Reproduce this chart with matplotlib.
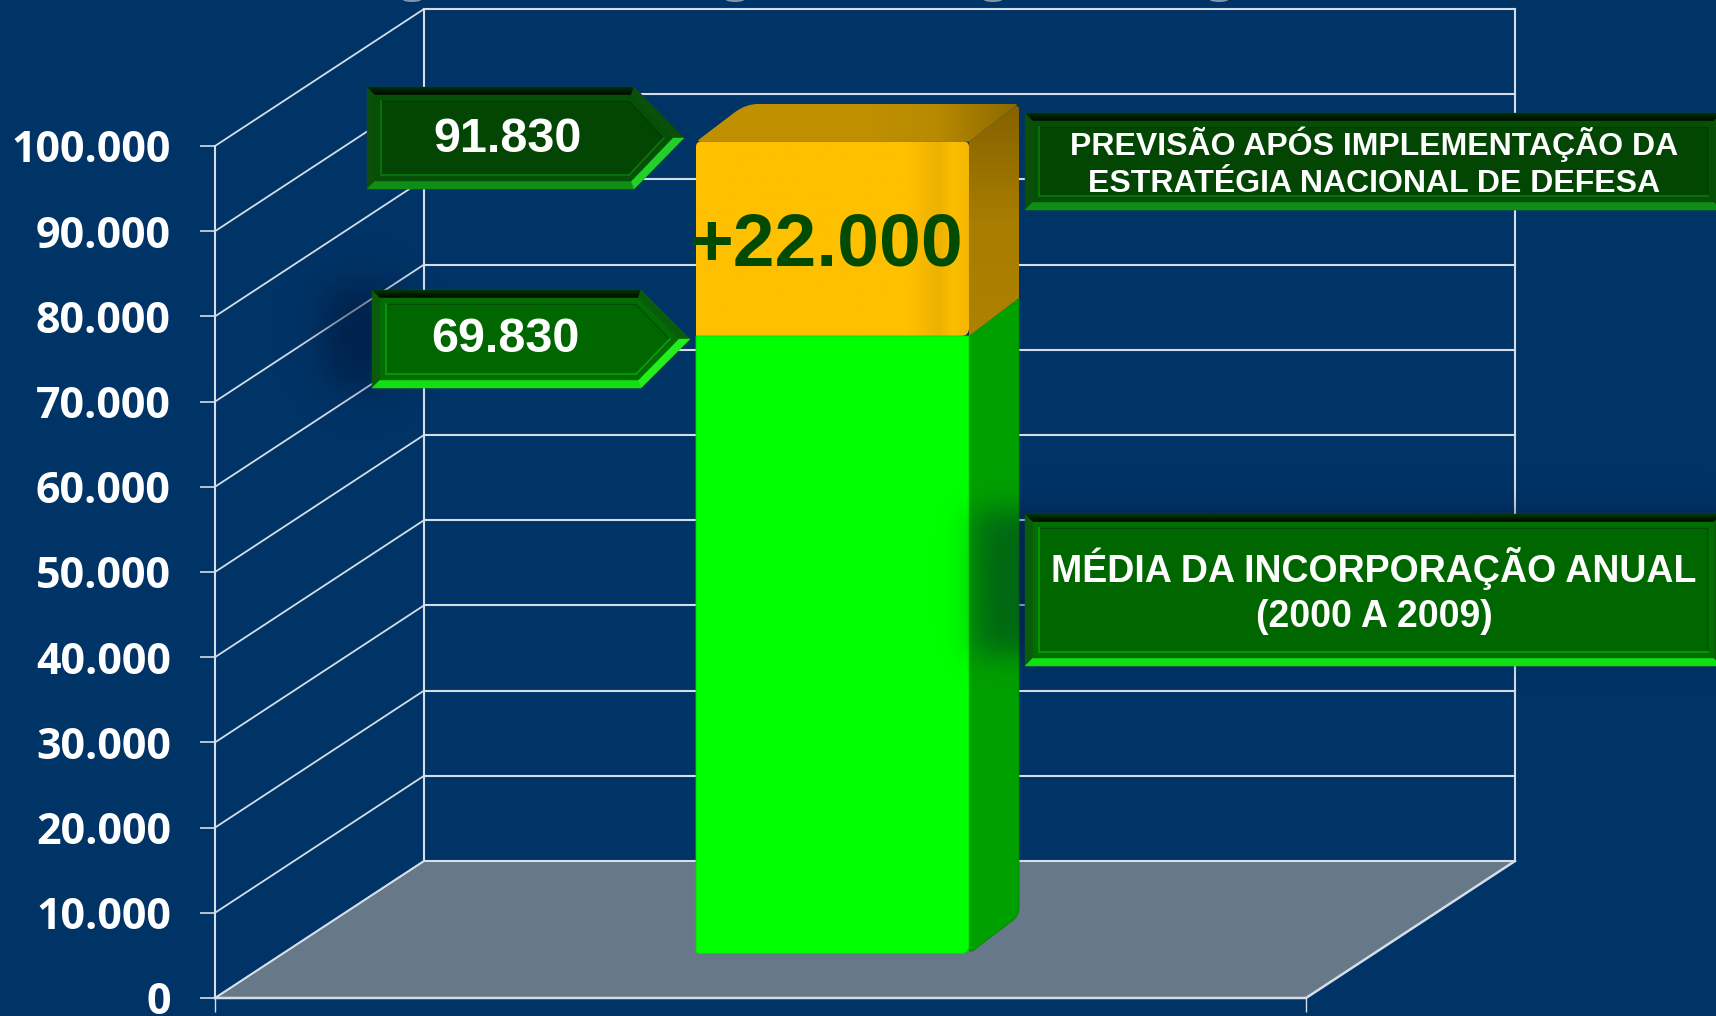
import numpy as np
from matplotlib import pyplot as plt
from matplotlib.colors import LinearSegmentedColormap, to_rgb
from matplotlib.patches import Ellipse, PathPatch, Polygon
from matplotlib.path import Path

TICK_VALUES = [0, 10000, 20000, 30000, 40000, 50000, 60000, 70000, 80000, 90000, 100000]
TICK_LABELS = ["0", "10.000", "20.000", "30.000", "40.000", "50.000", "60.000", "70.000", "80.000", "90.000", "100.000"]
# heights as they read against the axis, the drawing is not true to its own labels
BAR_BASE = 5200
BAR_GREEN = 72500
BAR_YELLOW = 22800
LABEL_TOTAL = "91.830"
LABEL_AVERAGE = "69.830"
LABEL_INCREASE = "+22.000"
NOTE_FORECAST = "PREVISÃO APÓS IMPLEMENTAÇÃO DA\nESTRATÉGIA NACIONAL DE DEFESA"
NOTE_AVERAGE = "MÉDIA DA INCORPORAÇÃO ANUAL\n(2000 A 2009)"

BG = "#003366"
LINE = "#D5DDE8"
SANS = "Liberation Sans"

PX_X = 1091.0  # pixels for one x unit
PX_V = 852.0 / 100000  # pixels for one value unit
DEPTH_X = 209 / PX_X
DEPTH_V = 137 / PX_V
BAR_LEFT = (696 - 215) / PX_X
BAR_WIDTH = 273 / PX_X
BAR_DX = 50 / PX_X
BAR_DV = 38 / PX_V


def rounded(points, radii):
    verts, codes = [], []
    n = len(points)
    for i in range(n):
        p = np.array(points[i], float)
        a = np.array(points[i - 1], float)
        b = np.array(points[(i + 1) % n], float)
        la = np.hypot((a[0] - p[0]) * PX_X, (a[1] - p[1]) * PX_V)
        lb = np.hypot((b[0] - p[0]) * PX_X, (b[1] - p[1]) * PX_V)
        start = p + (a - p) * radii[i] / la
        end = p + (b - p) * radii[i] / lb
        verts.append(tuple(start))
        codes.append(Path.MOVETO if i == 0 else Path.LINETO)
        verts += [tuple(p), tuple(end)]
        codes += [Path.CURVE3, Path.CURVE3]
    verts.append(verts[0])
    codes.append(Path.CLOSEPOLY)
    return Path(verts, codes)


def gradient(target, path, colors, vertical, zorder):
    box = path.get_extents()
    cmap = LinearSegmentedColormap.from_list("g", colors)
    ramp = np.linspace(0, 1, 256)
    grid = ramp[:, None] if vertical else ramp[None, :]
    im = target.imshow(
        grid,
        cmap=cmap,
        extent=(box.x0, box.x1, box.y0, box.y1),
        origin="lower",
        aspect="auto",
        interpolation="bilinear",
        zorder=zorder,
    )
    clip = PathPatch(path, transform=target.transData, fc="none", ec="none", clip_on=False)
    target.add_patch(clip)
    # the bar top stands above the axis range, so only the figure may limit it
    im.set_clip_box(target.figure.bbox)
    im.set_clip_path(clip)


def shadow(target, x0, y0, x1, y1, blur, strength, zorder):
    # soft dark rectangle behind a plate
    xs, ys = np.meshgrid(np.arange(x0 - 3 * blur, x1 + 3 * blur), np.arange(y0 - 3 * blur, y1 + 3 * blur))
    ax_ = 0.25 * (1 + np.tanh((xs - x0) / blur)) * (1 + np.tanh((x1 - xs) / blur))
    ay_ = 0.25 * (1 + np.tanh((ys - y0) / blur)) * (1 + np.tanh((y1 - ys) / blur))
    rgba = np.zeros(xs.shape + (4,))
    rgba[..., 0:3] = to_rgb("#001030")
    rgba[..., 3] = strength * ax_ * ay_
    target.imshow(
        rgba,
        extent=(xs.min(), xs.max(), ys.max(), ys.min()),
        aspect="auto",
        zorder=zorder,
    )


def poly(target, pts, color, zorder):
    target.add_patch(Polygon(pts, closed=True, fc=color, ec=color, lw=0.3, zorder=zorder))


def callout(target, l, t, r, b, tip, tone):
    # bevelled plate, tip is None when it runs off the picture
    z = 5
    ty = (t + b) / 2
    top_dark, face, band, low, low2, side, line_lo, line_hi = tone

    def outline(i):
        if tip is None:
            return [(l + i, t + i), (r - i, t + i), (r - i, b - i), (l + i, b - i)]
        return [
            (l + i, t + i),
            (r - i * 0.35, t + i),
            (tip - i * 1.45, ty),
            (r - i * 0.35, b - i),
            (l + i, b - i),
        ]

    o = outline(0)
    m = outline(8)
    n = len(o)
    poly(target, o, side, z)
    top_path = Path([o[0], o[1], m[1], m[0], o[0]], closed=True)
    gradient(target, top_path, [top_dark, "#000800"], True, z + 0.1)
    poly(target, [o[n - 1], o[n - 2], m[n - 2], m[n - 1]], low, z + 0.2)
    poly(target, [o[1], o[2], m[2], m[1]], side, z + 0.2)
    if tip is not None:
        poly(target, [o[2], o[3], m[3], m[2]], low2, z + 0.2)
    poly(target, m, band, z + 0.3)
    k = outline(14)
    poly(target, k, line_lo, z + 0.4)
    poly(target, outline(15), face, z + 0.5)
    target.plot([k[0][0], k[n - 1][0], k[n - 2][0]], [k[0][1], k[n - 1][1], k[n - 2][1]], color=line_hi, lw=1.2, zorder=z + 0.6)
    if tip is not None:
        target.plot([k[3][0], k[2][0]], [k[3][1], k[2][1]], color=line_hi, lw=1.2, zorder=z + 0.6)


DARK_TONE = ("#013101", "#034503", "#064F06", "#0E8E14", "#22D02A", "#0B4F0B", "#023802", "#0B7A0B")
LIGHT_TONE = ("#013801", "#006600", "#046C04", "#12E012", "#22EE22", "#0A5C0A", "#004A00", "#0AA00A")

fig = plt.figure(figsize=(17.16, 10.16), dpi=100, facecolor=BG)
ax = fig.add_axes([215 / 1716, (1016 - 998) / 1016, 1091 / 1716, 852 / 1016], facecolor="none")
ax.set_xlim(0, 1)
ax.set_ylim(0, 100000)
ax.autoscale(False)
for spine in ax.spines.values():
    spine.set_visible(False)

ax.set_yticks(TICK_VALUES, TICK_LABELS, family="Open Sans", fontweight="bold", fontsize=31, color="white")
ax.tick_params(axis="y", length=10.8, width=1.2, color=LINE, pad=21)
ax.set_xticks([0, 1], ["", ""])
ax.tick_params(axis="x", length=10, width=1.0, color=LINE)

# floor
floor = [(0, 0), (1, 0), (1 + DEPTH_X, DEPTH_V), (DEPTH_X, DEPTH_V)]
ax.add_patch(Polygon(floor, closed=True, fc="#677889", ec="none", zorder=1, clip_on=False))
ax.plot([0, 1, 1 + DEPTH_X], [0, 0, DEPTH_V], color=LINE, lw=1.8, zorder=2, clip_on=False)
ax.plot([0, DEPTH_X], [0, DEPTH_V], color=LINE, lw=1.3, zorder=2, clip_on=False)

# walls
for v in TICK_VALUES:
    ax.plot([DEPTH_X, 1 + DEPTH_X], [v + DEPTH_V, v + DEPTH_V], color=LINE, lw=1.5, zorder=1.5, clip_on=False)
    ax.plot([0, DEPTH_X], [v, v + DEPTH_V], color=LINE, lw=1.3, zorder=1.5, clip_on=False)
for x in [DEPTH_X, 1 + DEPTH_X]:
    ax.plot([x, x], [DEPTH_V, 100000 + DEPTH_V], color=LINE, lw=1.5, zorder=1.5, clip_on=False)
ax.plot([0, 0], [0, 100000], color=LINE, lw=1.5, zorder=1.5, clip_on=False)

# stacked bar
left = BAR_LEFT
right = BAR_LEFT + BAR_WIDTH
base = BAR_BASE
green_top = base + BAR_GREEN
yellow_top = green_top + BAR_YELLOW

side_green = rounded(
    [(right, base), (right + BAR_DX, base + BAR_DV), (right + BAR_DX, green_top + BAR_DV), (right, green_top)],
    [6, 8, 0.1, 0.1],
)
ax.add_patch(PathPatch(side_green, fc="#00A000", ec="#008A00", lw=0.6, zorder=3, clip_on=False))
side_yellow = rounded(
    [(right, green_top), (right + BAR_DX, green_top + BAR_DV), (right + BAR_DX, yellow_top + BAR_DV), (right, yellow_top)],
    [0.1, 0.1, 6, 0.1],
)
gradient(ax, side_yellow, ["#AD8200", "#A87D00", "#866200"], True, 3.1)
top_face = rounded(
    [(left, yellow_top), (right, yellow_top), (right + BAR_DX, yellow_top + BAR_DV), (left + BAR_DX, yellow_top + BAR_DV)],
    [5, 0.1, 5, 14],
)
gradient(ax, top_face, ["#C09000", "#C09000", "#C09000", "#B88A00", "#8C6800"], False, 3.2)
face_yellow = rounded(
    [(left, green_top), (right, green_top), (right, yellow_top), (left, yellow_top)],
    [0.1, 8, 5, 5],
)
gradient(ax, face_yellow, ["#FFC000"] * 15 + ["#F6B800", "#EDB200", "#FBBE00", "#F2B600"], False, 3.3)
face_green = rounded(
    [(left, base), (right, base), (right, green_top), (left, green_top)],
    [3, 8, 0.1, 0.1],
)
ax.add_patch(PathPatch(face_green, fc="#00FF00", ec="#00D800", lw=0.6, zorder=3.4, clip_on=False))

ax.text(
    left + BAR_WIDTH / 2 - 6 / PX_X,
    (998 - 246) / PX_V,
    LABEL_INCREASE,
    family=SANS,
    fontweight="bold",
    fontsize=54,
    color="#004B00",
    ha="center",
    va="center",
    zorder=4,
)

# overlay in picture pixels for the shadows and the plates
top = fig.add_axes([0, 0, 1, 1], facecolor="none")
top.set_xlim(0, 1716)
top.set_ylim(1016, 0)
top.autoscale(False)
top.axis("off")

for x in [412, 735, 993, 1219]:
    top.add_patch(Ellipse((x, -1), 20, 6, fc="#7F95B0", ec="none", zorder=1))

shadow(top, 325, 285, 400, 385, 22, 0.5, 2)
shadow(top, 975, 510, 1730, 655, 18, 0.4, 2)

callout(top, 367, 87, 634, 189, 684, DARK_TONE)
callout(top, 372, 290, 641, 388, 690, LIGHT_TONE)
callout(top, 1025, 113, 1722, 210, None, DARK_TONE)
callout(top, 1025, 514, 1722, 666, None, LIGHT_TONE)

top.text(508, 139, LABEL_TOTAL, family=SANS, fontweight="bold", fontsize=35, color="white", ha="center", va="center", zorder=7)
top.text(505, 340, LABEL_AVERAGE, family=SANS, fontweight="bold", fontsize=35, color="white", ha="center", va="center", zorder=7)
top.text(1374, 163, NOTE_FORECAST, family=SANS, fontweight="bold", fontsize=23, color="white", ha="center", va="center", linespacing=1.3, zorder=7)
top.text(1374, 591, NOTE_AVERAGE, family=SANS, fontweight="bold", fontsize=27, color="white", ha="center", va="center", linespacing=1.32, zorder=7)

fig.savefig("out.png", dpi=100, facecolor=BG)
